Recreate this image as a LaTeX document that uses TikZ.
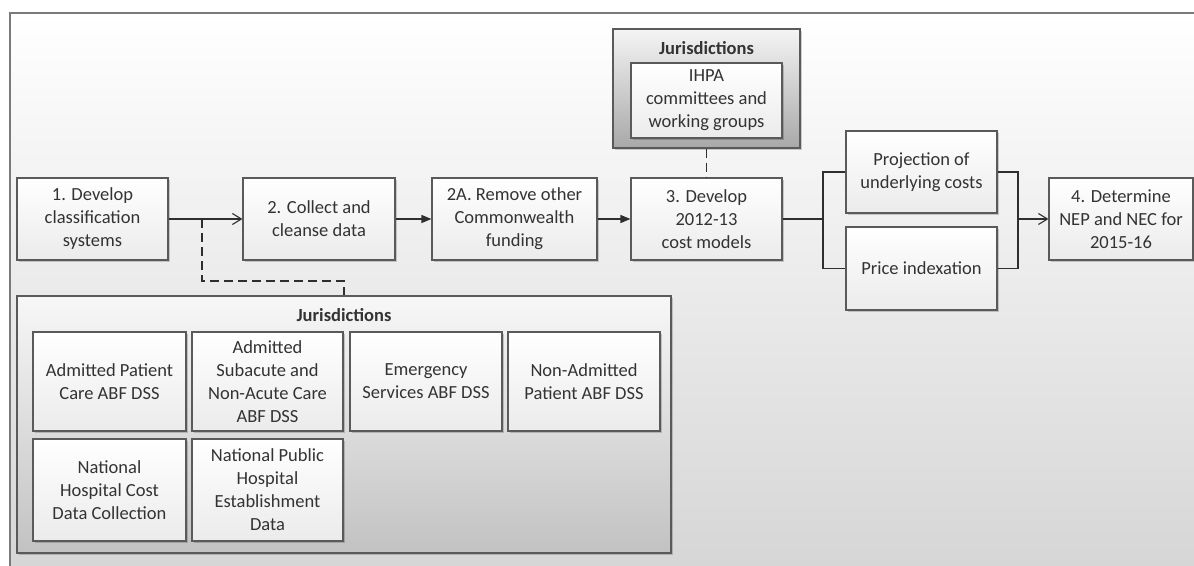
\documentclass[tikz,border=0pt]{standalone}
\usepackage{fontspec}
\setmainfont{Carlito}
\usetikzlibrary{arrows.meta,shadows}
\definecolor{txtc}{HTML}{333333}
\definecolor{linec}{HTML}{5A5A5A}
\definecolor{connc}{HTML}{2E2E2E}
\definecolor{boxbot}{HTML}{EBEBEB}
\definecolor{bgbot}{HTML}{D5D5D5}
\definecolor{framec}{HTML}{7A7A7A}
\definecolor{jonebot}{HTML}{A8A8A8}
\definecolor{jtwobot}{HTML}{C2C2C2}
\begin{document}
\begin{tikzpicture}[x=1pt,y=-1pt,
  txt/.style={font=\fontsize{18.5}{23}\selectfont, text=txtc, align=center},
  stepbox/.style={txt, draw=linec, line width=1.1pt, top color=white, bottom color=boxbot,
    inner sep=0pt, drop shadow={shadow xshift=1.5pt, shadow yshift=-1.5pt, opacity=0.18, fill=black}},
  groupbox/.style={draw=linec, line width=1.1pt, inner sep=0pt,
    drop shadow={shadow xshift=1.5pt, shadow yshift=-1.5pt, opacity=0.18, fill=black}},
  title/.style={font=\fontsize{18.5}{23}\selectfont\bfseries, text=txtc},
  conn/.style={draw=connc, line width=1.2pt},
  openhead/.style={-{Straight Barb[length=9pt,width=11pt,line width=1.1pt]}},
  filledhead/.style={-{Triangle[length=10pt,width=8pt]}},
  dashline/.style={conn, dash pattern=on 9pt off 5pt}
]
\useasboundingbox (0,0) rectangle (1194,565);
% outer frame
\begin{scope}
\clip (0,0) rectangle (1194,565);
\shade[top color=white, bottom color=bgbot] (10,13) rectangle (1210,580);
\draw[framec, line width=1.3pt] (10,580) -- (10,13) -- (1210,13);
\end{scope}

% main chain
\node[stepbox, minimum width=151pt, minimum height=82pt] (b1) at (92.5,219) {1. Develop\\classification\\systems};
\node[stepbox, minimum width=152pt, minimum height=82pt] (b2) at (319,219) {2. Collect and\\cleanse data};
\node[stepbox, minimum width=165pt, minimum height=82pt] (b2a) at (514.5,219) {2A. Remove other\\Commonwealth\\funding};
\node[stepbox, minimum width=151pt, minimum height=82pt] (b3) at (706.5,219) {3. Develop\\2012-13\\cost models};
\node[stepbox, minimum width=151pt, minimum height=82pt] (proj) at (921.5,172) {Projection of\\underlying costs};
\node[stepbox, minimum width=151pt, minimum height=83pt] (price) at (921.5,268.5) {Price indexation};
\node[stepbox, minimum width=144pt, minimum height=82pt] (b4) at (1121,219) {4. Determine\\NEP and NEC for\\2015-16};

% top jurisdictions group
\node[groupbox, top color=white!96!black, bottom color=jonebot, minimum width=187pt, minimum height=119pt] (j1) at (706.5,88.5) {};
\node[title] (j1t) at (706.5,48) {Jurisdictions};
\node[stepbox, minimum width=151pt, minimum height=75pt] (ihpa) at (706.5,100.5) {IHPA\\committees and\\working groups};

% bottom jurisdictions group
\node[groupbox, top color=white!97!black, bottom color=jtwobot, minimum width=654pt, minimum height=257pt] (j2) at (344,424.5) {};
\node[title] (j2t) at (344,315) {Jurisdictions};
\node[stepbox, minimum width=153pt, minimum height=99pt] (da) at (109.5,381.5) {Admitted Patient\\Care ABF DSS};
\node[stepbox, minimum width=151pt, minimum height=99pt] (db) at (267.5,381.5) {Admitted\\Subacute and\\Non-Acute Care\\ABF DSS};
\node[stepbox, minimum width=152pt, minimum height=99pt] (dc) at (426,381.5) {Emergency\\Services ABF DSS};
\node[stepbox, minimum width=152pt, minimum height=99pt] (dd) at (584,381.5) {Non-Admitted\\Patient ABF DSS};
\node[stepbox, minimum width=153pt, minimum height=102pt] (de) at (109.5,490) {National\\Hospital Cost\\Data Collection};
\node[stepbox, minimum width=151pt, minimum height=102pt] (df) at (267.5,490) {National Public\\Hospital\\Establishment\\Data};

% connectors
\draw[conn, openhead] (b1) -- (b2);
\draw[conn, filledhead] (b2) -- (b2a);
\draw[conn, filledhead] (b2a) -- (b3);
\coordinate (tap) at (202,219);
\coordinate (bend) at (202,281);
\draw[dashline] (tap) -- (bend) -| (j2.north);
\draw[dashline] (j1.south) -- (b3.north);
\coordinate (sl) at (823,219);
\coordinate (sr) at (1018,219);
\draw[conn] (b3) -- (sl);
\draw[conn] (proj.west) -| (sl) |- (price.west);
\draw[conn] (proj.east) -| (sr) |- (price.east);
\draw[conn, openhead] (sr) -- (b4);
\end{tikzpicture}
\end{document}
